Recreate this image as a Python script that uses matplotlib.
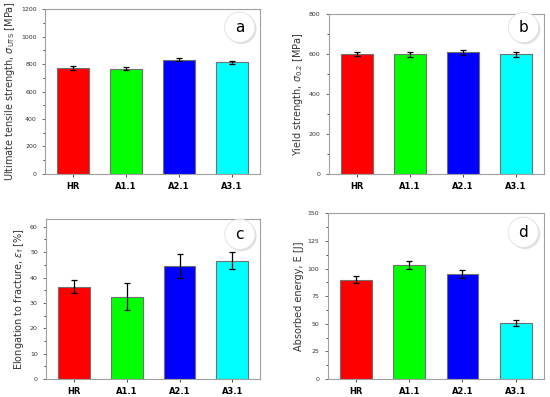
import matplotlib.pyplot as plt
import matplotlib.patheffects as pe
from matplotlib.ticker import MultipleLocator

samples = ['HR', 'A1.1', 'A2.1', 'A3.1']
colors = ['#ff0000', '#00ff00', '#0000ff', '#00ffff']

uts = [771, 766, 831, 812]
uts_err = [14, 10, 12, 11]
ys = [600, 597, 608, 597]
ys_err = [11, 12, 12, 13]
elong = [36.4, 32.5, 44.5, 46.7]
elong_err = [2.6, 5.4, 4.7, 3.5]
energy = [90.0, 103.2, 95.0, 50.4]
energy_err = [2.9, 3.8, 3.2, 2.7]

panels = [
    (uts, uts_err, r'Ultimate tensile strength, $\sigma_{\mathregular{UTS}}$ [MPa]', 1200, 200, 100, 'a',
     [0.082, 0.562, 0.391, 0.415], 0.89),
    (ys, ys_err, r'Yield strength, $\sigma_{\mathregular{0.2}}$ [MPa]', 800, 200, 100, 'b',
     [0.598, 0.562, 0.391, 0.403], 0.915),
    (elong, elong_err, r'Elongation to fracture, $\varepsilon_{\mathregular{f}}$ [%]', 63, 10, 5, 'c',
     [0.084, 0.045, 0.389, 0.403], 0.905),
    (energy, energy_err, 'Absorbed energy, E [J]', 150, 25, 12.5, 'd',
     [0.596, 0.045, 0.393, 0.418], 0.885),
]

fig = plt.figure(figsize=(5.5, 3.97), dpi=100)

for vals, errs, ylabel, ymax, major, minor, letter, rect, cy in panels:
    ax = fig.add_axes(rect)
    x = range(len(samples))
    ax.bar(x, vals, width=0.6, color=colors, edgecolor='#707070', linewidth=0.8,
           yerr=errs, capsize=2.5, error_kw=dict(elinewidth=0.9, capthick=0.9, ecolor='black'))
    ax.set_xlim(-0.53, 3.53)
    ax.set_ylim(0, ymax)
    ax.yaxis.set_major_locator(MultipleLocator(major))
    ax.yaxis.set_minor_locator(MultipleLocator(minor))
    ax.set_xticks(list(x))
    ax.set_xticklabels(samples, fontsize=6, fontweight='bold')
    ax.tick_params(axis='y', labelsize=4.5, length=2.5, width=0.5, colors='#333333')
    ax.tick_params(axis='y', which='minor', length=1.5, width=0.5)
    ax.tick_params(axis='x', length=2.5, width=0.5)
    for s in ax.spines.values():
        s.set_color('#a0a0a0')
        s.set_linewidth(0.8)
    ax.set_ylabel(ylabel, fontsize=7, color='#333333', labelpad=3)
    # circled panel letter with a soft shadow
    t = ax.text(0.905, cy, letter, transform=ax.transAxes, ha='center', va='center', fontsize=11,
                bbox=dict(boxstyle='circle,pad=0.5', facecolor='white', edgecolor='#e0e0e0', linewidth=0.6))
    t.get_bbox_patch().set_path_effects([pe.SimplePatchShadow(offset=(1.2, -1.2), shadow_rgbFace='#cccccc', alpha=0.6),
                                         pe.Normal()])

fig.savefig('out.png', dpi=100)
